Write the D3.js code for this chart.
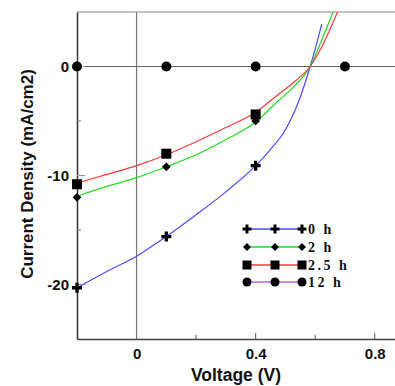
<!DOCTYPE html>
<html>
<head>
<meta charset="utf-8">
<script src="https://cdn.jsdelivr.net/npm/d3@7"></script>
<style>
  body { margin: 0; background: #fff; }
  text { font-family: Arial, "Liberation Sans", sans-serif; }
</style>
</head>
<body>
<div id="chart"></div>
<script>
// curves, [voltage, current density]
const curve0h = [[-0.2,-20.3],[-0.1,-18.8],[0,-17.4],[0.1,-15.6],[0.2,-13.6],[0.3,-11.5],[0.4,-9.1],[0.45,-7.6],[0.5,-5.8],[0.55,-2.8],[0.583,0],[0.6,1.6],[0.622,3.9]]
const curve2h = [[-0.2,-11.9],[-0.1,-11.0],[0,-10.2],[0.1,-9.2],[0.2,-8.1],[0.3,-6.7],[0.4,-5.1],[0.47,-3.3],[0.53,-1.8],[0.583,0],[0.62,2.3],[0.66,5]]
const curve25h = [[-0.2,-10.7],[-0.1,-9.9],[0,-9.1],[0.1,-8.1],[0.2,-6.9],[0.3,-5.6],[0.4,-4.2],[0.47,-2.7],[0.53,-1.4],[0.583,0],[0.62,1.7],[0.675,5]]

// marker points
const marks0h = [[-0.2,-20.3],[0.1,-15.6],[0.4,-9.1]]
const marks2h = [[-0.2,-12.0],[0.1,-9.2],[0.4,-5.0]]
const marks25h = [[-0.2,-10.8],[0.1,-8.0],[0.4,-4.4]]
const marks12h = [[-0.2,0],[0.1,0],[0.4,0],[0.7,0]]

const xTicks = [0, 0.4, 0.8]
const xMinor = [0.2, 0.6]
const yTicks = [0, -10, -20]
const yMinor = [-5, -15]

const series = [
    {name: "0 h", line: curve0h, marks: marks0h, color: "#4c4cff", shape: "cross"},
    {name: "2 h", line: curve2h, marks: marks2h, color: "#22dd22", shape: "diamond"},
    {name: "2.5 h", line: curve25h, marks: marks25h, color: "#ff3a3a", shape: "square"},
    {name: "12 h", line: null, marks: marks12h, color: "#b366e6", shape: "circle"}
]

const W = 395, H = 386
const svg = d3.select("#chart").append("svg")
    .attr("width", W).attr("height", H)

const x = d3.scaleLinear().domain([-0.2, 0.868]).range([77, 395])
const y = d3.scaleLinear().domain([-25, 5]).range([339, 12])

const g = svg.append("g")

// frame and zero lines
g.append("line").attr("x1", x(-0.2)).attr("x2", W).attr("y1", y(5)).attr("y2", y(5))
    .attr("stroke", "#888").attr("stroke-width", 1.2)
g.append("line").attr("x1", x(0)).attr("x2", x(0)).attr("y1", y(5)).attr("y2", y(-25))
    .attr("stroke", "#777").attr("stroke-width", 1.2)
g.append("line").attr("x1", x(-0.2)).attr("x2", W).attr("y1", y(0)).attr("y2", y(0))
    .attr("stroke", "#666").attr("stroke-width", 1.2)

// axes
const yAxis = g.append("g").attr("transform", `translate(${x(-0.2)},0)`)
    .call(d3.axisLeft(y).tickValues(yTicks).tickSize(0).tickPadding(8).tickFormat(d => String(d)))
yAxis.select(".domain").attr("stroke", "#333").attr("stroke-width", 1.5)
yAxis.selectAll("text").attr("font-size", 15).attr("font-weight", "bold").attr("fill", "#111")
g.selectAll(".ymaj").data(yTicks).join("line")
    .attr("x1", x(-0.2)).attr("x2", x(-0.2) + 8).attr("y1", d => y(d)).attr("y2", d => y(d))
    .attr("stroke", "#999")
g.selectAll(".ymin").data(yMinor).join("line")
    .attr("x1", x(-0.2)).attr("x2", x(-0.2) + 4).attr("y1", d => y(d)).attr("y2", d => y(d))
    .attr("stroke", "#777")

const xAxis = g.append("g").attr("transform", `translate(0,${y(-25)})`)
    .call(d3.axisBottom(x).tickValues(xTicks).tickSize(0).tickPadding(9).tickFormat(d => d === 0 ? "0" : d3.format(".1f")(d)))
xAxis.select(".domain").attr("stroke", "#444").attr("stroke-width", 1.3)
xAxis.selectAll("text").attr("font-size", 15).attr("font-weight", "bold").attr("fill", "#111")
g.selectAll(".xmaj").data(xTicks.filter(d => d !== 0)).join("line")
    .attr("x1", d => x(d)).attr("x2", d => x(d)).attr("y1", y(-25)).attr("y2", y(-25) - 6)
    .attr("stroke", "#555")
g.selectAll(".xmin").data(xMinor).join("line")
    .attr("x1", d => x(d)).attr("x2", d => x(d)).attr("y1", y(-25)).attr("y2", y(-25) - 4)
    .attr("stroke", "#555")

// titles
svg.append("text").attr("x", 236).attr("y", 381).attr("text-anchor", "middle")
    .attr("font-size", 17.5).attr("font-weight", "bold").attr("fill", "#111").text("Voltage (V)")
svg.append("text").attr("transform", "translate(33,174) rotate(-90)").attr("text-anchor", "middle")
    .attr("font-size", 17).attr("font-weight", "bold").attr("fill", "#111").text("Current Density (mA/cm2)")

// curves
const line = d3.line().x(d => x(d[0])).y(d => y(d[1])).curve(d3.curveMonotoneX)
g.selectAll(".curve").data(series.filter(s => s.line)).join("path")
    .attr("d", s => line(s.line))
    .attr("fill", "none").attr("stroke", s => s.color).attr("stroke-width", 1.2)

function drawMark(sel, shape, px, py, k) {
    if (shape === "circle") {
        sel.append("circle").attr("cx", px).attr("cy", py).attr("r", 5 * k).attr("fill", "#000")
    } else if (shape === "square") {
        sel.append("rect").attr("x", px - 5 * k).attr("y", py - 5 * k)
            .attr("width", 10 * k).attr("height", 10 * k).attr("fill", "#000")
    } else if (shape === "diamond") {
        sel.append("path").attr("d", d3.symbol(d3.symbolSquare, 38 * k * k)())
            .attr("transform", `translate(${px},${py}) rotate(45)`).attr("fill", "#000")
    } else {
        sel.append("path").attr("d", d3.symbol(d3.symbolCross, 55 * k * k)())
            .attr("transform", `translate(${px},${py})`).attr("fill", "#000")
    }
}

series.forEach(s => {
    const mg = g.append("g")
    s.marks.forEach(d => drawMark(mg, s.shape, x(d[0]), y(d[1]), 1))
})

// legend
const legX = [247, 275, 302]
const legY = [229, 247, 265, 282]
const leg = svg.append("g")
series.forEach((s, i) => {
    leg.append("line").attr("x1", legX[0]).attr("x2", legX[2]).attr("y1", legY[i]).attr("y2", legY[i])
        .attr("stroke", s.color).attr("stroke-width", 1.3)
    legX.forEach(lx => drawMark(leg, s.shape, lx, legY[i], 0.9))
    leg.append("text").attr("x", 308).attr("y", legY[i] + 5)
        .style("font-family", "'Liberation Serif', 'Times New Roman', serif")
        .attr("font-size", 14).attr("font-weight", "bold").attr("letter-spacing", 2.5)
        .attr("fill", "#111").text(s.name)
})
</script>
</body>
</html>
